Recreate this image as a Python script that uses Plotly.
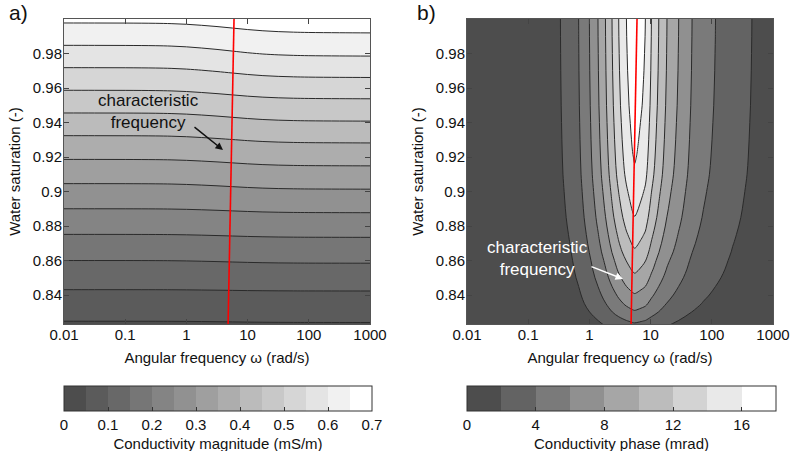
import numpy as np
import plotly.graph_objects as go

# ---------------- data ----------------
# a) conductivity magnitude (mS/m): value at low and high frequency per saturation
saturation = [0.82, 0.83, 0.84, 0.85, 0.86, 0.87, 0.88, 0.89, 0.90, 0.91,
              0.92, 0.93, 0.94, 0.95, 0.96, 0.97, 0.98, 0.99, 1.00]
mag_low = [0.037, 0.064, 0.091, 0.120, 0.150, 0.183, 0.216, 0.250, 0.284, 0.319,
           0.355, 0.391, 0.429, 0.467, 0.505, 0.543, 0.582, 0.620, 0.659]
mag_high = [0.039, 0.066, 0.093, 0.123, 0.155, 0.188, 0.223, 0.258, 0.295, 0.332,
            0.369, 0.407, 0.447, 0.485, 0.525, 0.566, 0.606, 0.643, 0.679]
# fraction of the low->high change reached at each log10(omega)
mag_logw = [-2.0, -1.5, -1.0, -0.5, -0.25, 0.0, 0.25, 0.5, 0.75, 1.0,
            1.25, 1.5, 1.75, 2.0, 2.5, 3.0]
mag_transition = [0.0, 0.003, 0.01, 0.035, 0.07, 0.14, 0.25, 0.38, 0.53, 0.68,
                  0.80, 0.88, 0.93, 0.96, 0.985, 1.0]

# b) conductivity phase (mrad): peak phase per saturation and relative spectral shape
phase_sat = [0.820, 0.825, 0.830, 0.835, 0.840, 0.845, 0.850, 0.855, 0.860, 0.865,
             0.870, 0.875, 0.880, 0.885, 0.890, 0.895, 0.900, 0.910, 0.920, 0.930,
             0.940, 0.950, 0.960, 0.970, 0.980, 0.990, 1.000]
phase_peak = [3.0, 4.3, 5.75, 6.9, 7.85, 8.75, 9.6, 10.35, 11.0, 11.75,
              12.35, 12.9, 13.45, 13.95, 14.35, 14.7, 15.05, 15.75, 16.15, 16.45,
              16.7, 16.95, 17.1, 17.25, 17.35, 17.45, 17.5]
phase_logw = [-2.0, -1.5, -1.0, -0.71, -0.474, -0.31, -0.175, 0.0, 0.14, 0.262,
              0.37, 0.479, 0.605, 0.67, 0.705, 0.74, 0.775, 0.82, 0.87, 0.915,
              1.013, 1.133, 1.268, 1.459, 1.677, 1.86, 2.059, 2.34, 2.657, 3.0]
phase_shape = [0.012, 0.025, 0.05, 0.08, 0.114, 0.165, 0.229, 0.343, 0.457, 0.571,
               0.686, 0.80, 0.914, 0.96, 0.985, 1.0, 0.988, 0.965, 0.94, 0.914,
               0.80, 0.686, 0.571, 0.457, 0.343, 0.28, 0.229, 0.165, 0.114, 0.08]

# characteristic frequency (rad/s) vs saturation
char_sat = [0.8232, 1.0]
char_omega = [4.8, 6.0]

x_tickvals = [0.01, 0.1, 1, 10, 100, 1000]
x_ticktext = ["0.01", "0.1", "1", "10", "100", "1000"]
y_tickvals = [0.84, 0.86, 0.88, 0.90, 0.92, 0.94, 0.96, 0.98]
mag_cb_ticks = [0, 0.1, 0.2, 0.3, 0.4, 0.5, 0.6, 0.7]
phase_cb_ticks = [0, 4, 8, 12, 16]

# ---------------- tables for the library ----------------
mag_omega = 10 ** np.array(mag_logw)
lo = np.array(mag_low)[:, None]
hi = np.array(mag_high)[:, None]
mag_z = lo + (hi - lo) * np.array(mag_transition)[None, :]

phase_omega = 10 ** np.array(phase_logw)
phase_z = np.array(phase_peak)[:, None] * np.array(phase_shape)[None, :]

FONT = "Liberation Sans, Arial, sans-serif"
gray = [[0, "rgb(77,77,77)"], [1, "rgb(255,255,255)"]]
LINE = dict(color="#2a2a2a", width=1, smoothing=1)

W, H = 794, 451
def px_x(p): return p / W
def px_y(p): return 1 - p / H

fig = go.Figure()

def cbar(xc, length, title, ticks):
    return dict(orientation="h", x=xc, xanchor="center", len=length, lenmode="fraction",
                y=px_y(385.5), yanchor="top", thickness=25, thicknessmode="pixels",
                xpad=0, ypad=0, outlinewidth=1, outlinecolor="#333",
                tickmode="array", tickvals=ticks, ticks="inside", ticklen=4,
                tickcolor="#333", tickfont=dict(size=15, family=FONT, color="#111"),
                title=dict(text=title, side="bottom", font=dict(size=15, family=FONT, color="#111")))

# panel a
for lines in (False, True):
    fig.add_trace(go.Contour(
        x=mag_omega, y=saturation, z=mag_z, xaxis="x", yaxis="y",
        colorscale=gray, zmin=0, zmax=0.7, autocontour=False,
        contours=dict(start=0.05, end=0.65, size=0.05, coloring="fill", showlines=lines),
        line=LINE, showscale=not lines, hoverinfo="skip",
        colorbar=cbar(px_x((64 + 372) / 2), (372 - 64) / W,
                      "Conductivity magnitude (mS/m)", mag_cb_ticks)))
fig.add_trace(go.Scatter(x=char_omega, y=char_sat, mode="lines", xaxis="x", yaxis="y",
                         line=dict(color="#ff0000", width=1.6), hoverinfo="skip"))

# panel b
for lines in (False, True):
    fig.add_trace(go.Contour(
        x=phase_omega, y=phase_sat, z=phase_z, xaxis="x2", yaxis="y2",
        colorscale=gray, zmin=0, zmax=18, autocontour=False,
        contours=dict(start=2, end=16, size=2, coloring="fill", showlines=lines),
        line=LINE, showscale=not lines, hoverinfo="skip",
        colorbar=cbar(px_x((467 + 776) / 2), (776 - 467) / W,
                      "Conductivity phase (mrad)", phase_cb_ticks)))
fig.add_trace(go.Scatter(x=char_omega, y=char_sat, mode="lines", xaxis="x2", yaxis="y2",
                         line=dict(color="#ff0000", width=1.6), hoverinfo="skip"))

tickfont = dict(size=15, family=FONT, color="#111")
titlefont = dict(size=15, family=FONT, color="#111")

def xax(dom, anchor):
    return dict(domain=dom, anchor=anchor, type="log", range=[-2, 3], automargin=False,
                tickmode="array", tickvals=x_tickvals, ticktext=x_ticktext,
                ticks="inside", ticklen=5, tickcolor="#444", mirror="ticks",
                showline=True, linecolor="#555", linewidth=1, showgrid=False,
                zeroline=False, tickfont=tickfont, ticklabelstandoff=-3,
                title=dict(text="Angular frequency ω (rad/s)", font=titlefont, standoff=10))

def yax(dom, anchor):
    return dict(domain=dom, anchor=anchor, range=[0.8232, 1.0], automargin=False,
                tickmode="array", tickvals=y_tickvals,
                ticks="inside", ticklen=5, tickcolor="#444", mirror="ticks",
                showline=True, linecolor="#555", linewidth=1, showgrid=False,
                zeroline=False, tickfont=tickfont, ticklabelstandoff=-2,
                title=dict(text="Water saturation (-)", font=titlefont, standoff=8))

ydom = [px_y(324), px_y(19)]
fig.update_layout(
    width=W, height=H, margin=dict(l=0, r=0, t=0, b=0, autoexpand=False),
    paper_bgcolor="white", plot_bgcolor="white", showlegend=False,
    font=dict(family=FONT, color="#111"),
    xaxis=xax([px_x(64), px_x(370)], "y"),
    yaxis=yax(ydom, "x"),
    xaxis2=xax([px_x(467), px_x(773)], "y2"),
    yaxis2=yax(ydom, "x2"),
)

def label(text, x, y, size, color):
    return dict(text=text, x=px_x(x), y=px_y(y), xref="paper", yref="paper",
                xanchor="center", yanchor="middle", showarrow=False,
                font=dict(size=size, family=FONT, color=color))

def arrow(x, y, ax, ay, color):
    return dict(text="", x=px_x(x), y=px_y(y), xref="paper", yref="paper",
                showarrow=True, ax=ax, ay=ay, axref="pixel", ayref="pixel",
                arrowhead=2, arrowsize=1, arrowwidth=1.5, arrowcolor=color)

ann = [
    label("a)", 18, 12, 21, "#111"),
    label("b)", 426, 13, 21, "#111"),
    label("characteristic<br>frequency", 148, 112, 17, "#111"),
    arrow(223, 150, -30, -24, "#111"),
    label("characteristic<br>frequency", 537.5, 258, 17, "white"),
    arrow(623, 279, -33, -13, "white"),
]
fig.update_layout(annotations=ann)

fig.write_html("out.html")
